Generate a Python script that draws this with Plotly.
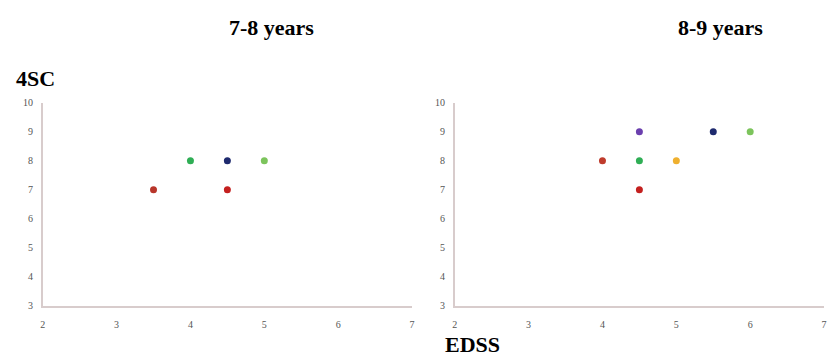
import plotly.graph_objects as go

# EDSS / 4SC pairs per follow-up period
edss_7_8 = [3.5, 4.0, 4.5, 4.5, 5.0]
fsc_7_8 = [7, 8, 8, 7, 8]
colors_7_8 = ["#b8352a", "#2fae55", "#1e2a6e", "#c4201f", "#7cc45c"]

edss_8_9 = [4.0, 4.5, 4.5, 4.5, 5.0, 5.5, 6.0]
fsc_8_9 = [8, 9, 8, 7, 8, 9, 9]
colors_8_9 = ["#bf3b2c", "#6b3fae", "#2fae55", "#c4201f", "#efb02f", "#1e2a6e", "#7cc45c"]

x_ticks = [2, 3, 4, 5, 6, 7]
y_ticks = [3, 4, 5, 6, 7, 8, 9, 10]

W, H = 835, 363
fig = go.Figure()
fig.add_trace(go.Scatter(x=edss_7_8, y=fsc_7_8, mode="markers",
                         marker=dict(color=colors_7_8, size=7),
                         xaxis="x", yaxis="y", showlegend=False))
fig.add_trace(go.Scatter(x=edss_8_9, y=fsc_8_9, mode="markers",
                         marker=dict(color=colors_8_9, size=7),
                         xaxis="x2", yaxis="y2", showlegend=False))

y_dom = [1 - 310 / H, 1 - 100 / H]
axis_common = dict(showgrid=False, zeroline=False, showline=True,
                   linecolor="#d8cccc", linewidth=1.5, ticks="",
                   tickfont=dict(family="Liberation Serif", size=10, color="#555"))
fig.update_layout(
    width=W, height=H, margin=dict(l=0, r=0, t=0, b=0),
    paper_bgcolor="white", plot_bgcolor="white",
    xaxis=dict(domain=[40 / W, 412 / W], range=[2, 7], tickvals=x_ticks,
               anchor="y", ticklabelstandoff=8, **axis_common),
    yaxis=dict(domain=y_dom, range=[3, 10], tickvals=y_ticks,
               anchor="x", ticklabelstandoff=6, **axis_common),
    xaxis2=dict(domain=[455 / W, 827 / W], range=[2, 7], tickvals=x_ticks,
                anchor="y2", ticklabelstandoff=8, **axis_common),
    yaxis2=dict(domain=y_dom, range=[3, 10], tickvals=y_ticks,
                anchor="x2", ticklabelstandoff=6, **axis_common),
)

title_font = dict(family="Liberation Serif", size=22, color="black")
for text, x, y in [("<b>7-8 years</b>", 270, 22), ("<b>8-9 years</b>", 723, 22),
                   ("<b>4SC</b>", 33, 75), ("<b>EDSS</b>", 473, 350)]:
    fig.add_annotation(text=text, x=x / W, y=1 - y / H, xref="paper", yref="paper",
                       showarrow=False, xanchor="center", yanchor="middle",
                       font=title_font)

fig.write_html("out.html")
